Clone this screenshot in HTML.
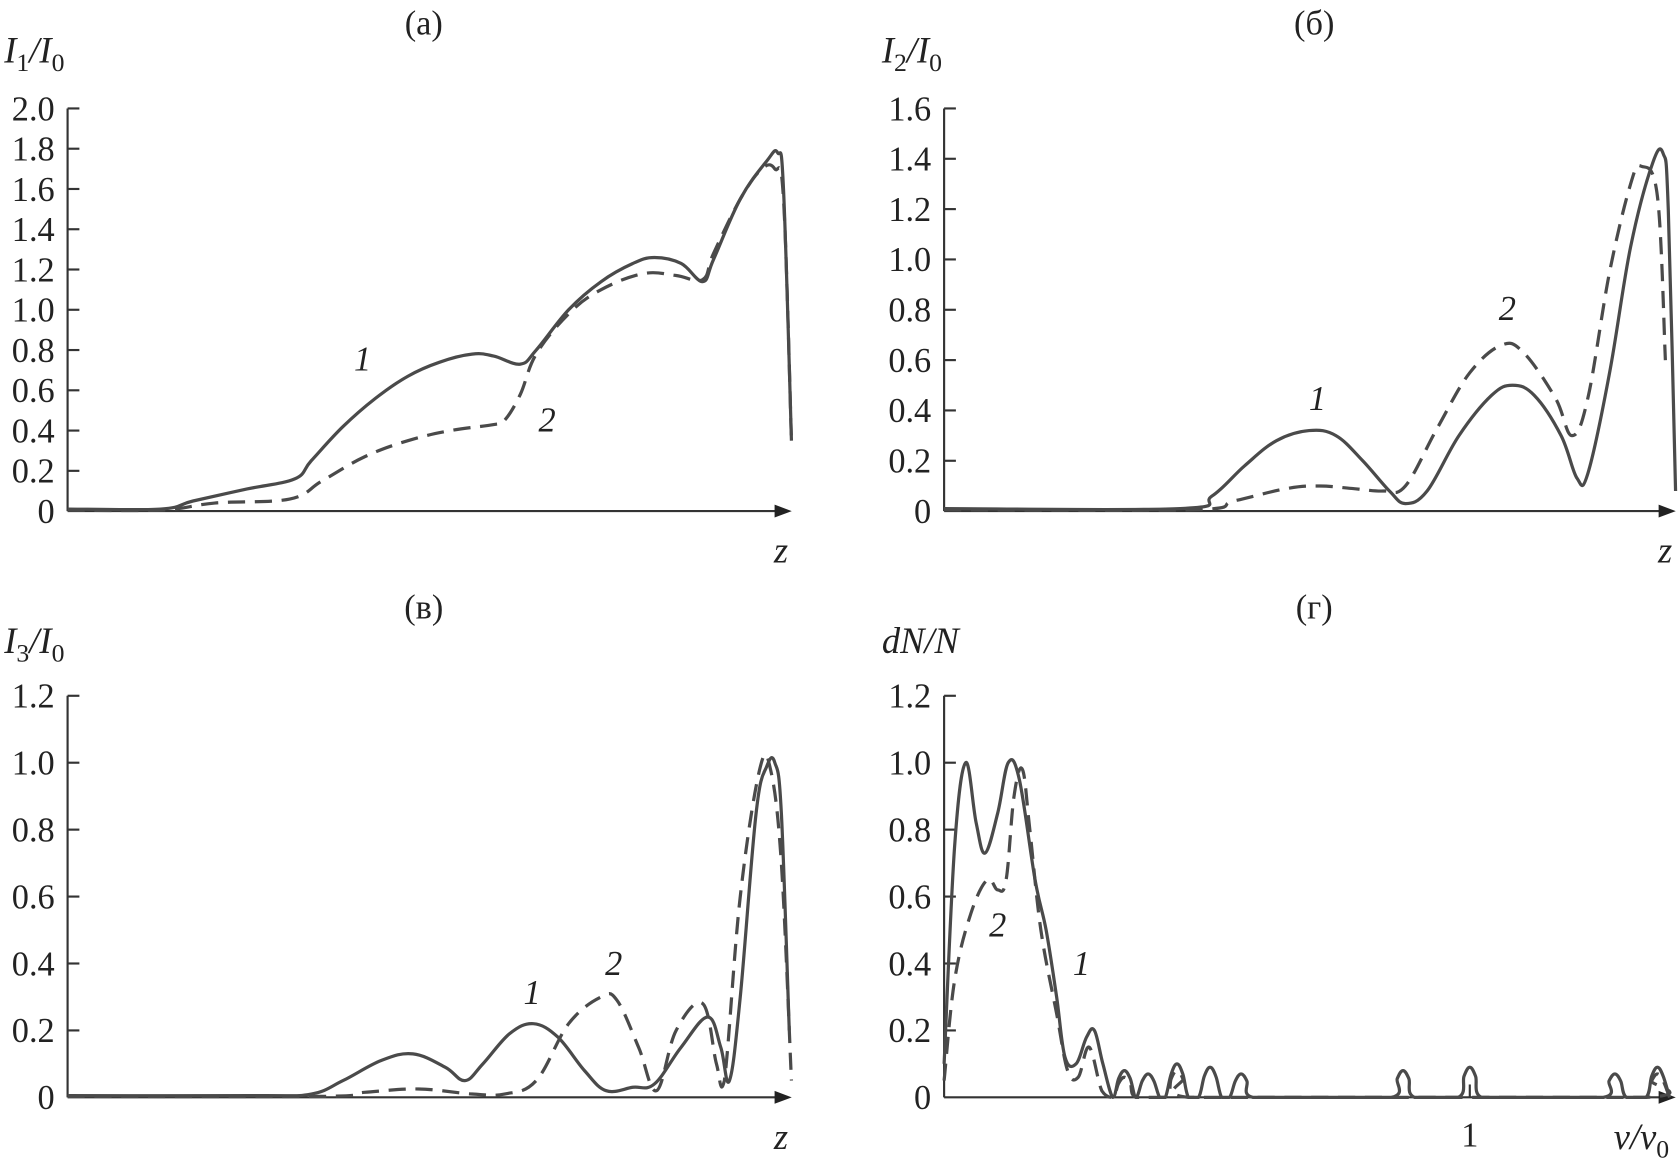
<!DOCTYPE html>
<html><head><meta charset="utf-8"><style>
html,body{margin:0;padding:0;background:#fff;}
svg{display:block;}
text{font-family:"Liberation Serif",serif;fill:#222;}
</style></head><body>
<svg id="chart" width="1679" height="1165" viewBox="0 0 1565 1085" preserveAspectRatio="none" xmlns="http://www.w3.org/2000/svg"></svg>
<script>
// Panel a (z in 0..10)
const aZ1=[0,1.29,1.74,2.49,3.15,3.38,3.82,4.27,4.72,5.16,5.61,5.91,6.28,6.50,6.95,7.40,7.84,8.14,8.51,8.81,8.96,9.33,9.70,9.85,9.93,10.04];
const aV1=[0.01,0.01,0.05,0.11,0.16,0.25,0.42,0.56,0.67,0.74,0.78,0.77,0.73,0.80,1.0,1.14,1.23,1.26,1.23,1.14,1.25,1.55,1.74,1.78,1.6,0.35];
const aZ2=[0,1.29,2.04,3.08,3.53,4.12,4.72,5.31,5.91,6.06,6.28,6.50,6.95,7.40,7.99,8.44,8.81,8.96,9.33,9.63,9.81,9.93,10.04];
const aV2=[0.005,0.005,0.04,0.06,0.15,0.27,0.35,0.40,0.43,0.45,0.58,0.78,0.98,1.10,1.18,1.17,1.15,1.28,1.55,1.70,1.70,1.55,0.35];
// Panel b
const bZ1=[0,3.26,3.70,4.15,4.59,5.04,5.41,5.78,6.15,6.37,6.67,7.11,7.56,7.85,8.15,8.52,8.74,8.89,9.19,9.48,9.78,9.93,10.0,10.1];
const bV1=[0.01,0.01,0.06,0.18,0.28,0.32,0.30,0.20,0.08,0.03,0.08,0.30,0.46,0.50,0.46,0.30,0.13,0.15,0.55,1.05,1.38,1.42,1.2,0.08];
const bZ2=[0,3.41,4.0,4.74,5.19,5.63,6.07,6.37,6.81,7.26,7.70,8.0,8.44,8.67,8.89,9.19,9.48,9.63,9.85,9.96];
const bV2=[0.005,0.005,0.04,0.09,0.10,0.09,0.08,0.10,0.33,0.55,0.66,0.63,0.45,0.30,0.45,0.95,1.30,1.37,1.25,0.6];
// Panel c
const cZ1=[0,2.63,3.38,3.82,4.35,4.79,5.24,5.51,5.76,6.13,6.46,6.80,7.17,7.47,7.84,8.14,8.51,8.88,9.06,9.18,9.33,9.55,9.70,9.81,9.90,10.01];
const cV1=[0.005,0.005,0.01,0.05,0.11,0.13,0.09,0.05,0.10,0.19,0.22,0.18,0.08,0.02,0.03,0.04,0.15,0.24,0.15,0.05,0.30,0.85,0.99,1.0,0.85,0.2];
const cZ2=[0,3.53,4.12,4.87,5.61,6.06,6.50,6.95,7.40,7.62,7.92,8.17,8.44,8.81,9.0,9.11,9.33,9.60,9.75,9.90,10.04];
const cV2=[0.003,0.003,0.015,0.025,0.01,0.01,0.05,0.22,0.30,0.29,0.15,0.02,0.20,0.28,0.10,0.05,0.60,0.98,0.98,0.70,0.05];
// Panel d (v/v0)
const dX1=[0,0.02,0.041,0.061,0.078,0.102,0.122,0.143,0.173,0.194,0.214,0.230,0.251,0.271,0.286,0.302,0.321,0.332,0.343,0.354,0.365,0.377,0.388,0.399,0.410,0.421,0.432,0.443,0.454,0.465,0.484,0.495,0.506,0.517,0.528,0.543,0.554,0.565,0.576,0.587,0.7,0.851,0.862,0.873,0.884,0.895,0.978,0.989,1.0,1.011,1.022,1.1,1.254,1.265,1.276,1.287,1.298,1.335,1.346,1.357,1.368,1.38];
const dV1=[0.1,0.75,1.0,0.82,0.73,0.85,1.0,0.95,0.65,0.5,0.3,0.12,0.10,0.18,0.2,0.1,0,0.056,0.08,0.056,0,0.049,0.07,0.049,0,0,0.07,0.10,0.07,0,0,0.063,0.09,0.063,0,0,0.049,0.07,0.049,0,0,0,0.056,0.08,0.056,0,0,0.063,0.09,0.063,0,0,0,0.049,0.07,0.049,0,0,0.063,0.09,0.063,0];
const dX2=[0,0.02,0.051,0.082,0.102,0.118,0.133,0.149,0.163,0.184,0.214,0.235,0.255,0.276,0.300,0.321,0.332,0.343,0.354,0.365,0.421,0.432,0.443,0.454,0.465,0.8,1.335,1.346,1.357,1.368,1.38];
const dV2=[0.05,0.35,0.55,0.65,0.62,0.65,0.9,0.98,0.80,0.50,0.25,0.08,0.06,0.15,0.02,0,0.042,0.06,0.042,0,0,0.056,0.08,0.056,0,0,0,0.049,0.07,0.049,0];
const ticksA=["0","0.2","0.4","0.6","0.8","1.0","1.2","1.4","1.6","1.8","2.0"];
const ticksB=["0","0.2","0.4","0.6","0.8","1.0","1.2","1.4","1.6"];
const ticksC=["0","0.2","0.4","0.6","0.8","1.0","1.2"];

const svg=document.getElementById('chart');
const NS="http://www.w3.org/2000/svg";
function mk(tag,attrs,parent){const e=document.createElementNS(NS,tag);for(const k in attrs)e.setAttribute(k,attrs[k]);(parent||svg).appendChild(e);return e;}
function txt(x,y,s,size,anchor,style,parent){const t=mk('text',{x:x,y:y,'font-size':size,'text-anchor':anchor||'start'},parent);if(style)t.setAttribute('font-style',style);t.innerHTML=s;return t;}
function smooth(pts,yb){const cl=v=>Math.min(v,yb);let d='M'+pts[0][0].toFixed(1)+','+pts[0][1].toFixed(1);for(let i=0;i<pts.length-1;i++){const p0=pts[Math.max(0,i-1)],p1=pts[i],p2=pts[i+1],p3=pts[Math.min(pts.length-1,i+2)];const t=0.18;const c1=[p1[0]+(p2[0]-p0[0])*t,cl(p1[1]+(p2[1]-p0[1])*t)];const c2=[p2[0]-(p3[0]-p1[0])*t,cl(p2[1]-(p3[1]-p1[1])*t)];d+=' C'+c1[0].toFixed(1)+','+c1[1].toFixed(1)+' '+c2[0].toFixed(1)+','+c2[1].toFixed(1)+' '+p2[0].toFixed(1)+','+p2[1].toFixed(1);}return d;}

function panel(cfg){
  const g=mk('g',{});
  
  
  const ys=v=>cfg.y0-(v/cfg.ymax)*(cfg.y0-cfg.ytop);
  const xs=z=>cfg.x0+(z-cfg.dmin)/(cfg.dmax-cfg.dmin)*(cfg.x1-cfg.x0);
  const ya=mk('line',{x1:cfg.x0,y1:cfg.y0,x2:cfg.x0,y2:cfg.ytop,stroke:'#333','stroke-width':2},g);
  
  
  const xa=mk('line',{x1:cfg.x0,y1:cfg.y0,x2:cfg.xend-8,y2:cfg.y0,stroke:'#333','stroke-width':2},g);
  
  
  const ar=mk('path',{d:`M${cfg.xend},${cfg.y0} l-16,-6 l0,12 z`,fill:'#222'},g);
  
  
  const step=cfg.ymax/(cfg.ticks.length-1);
  cfg.ticks.forEach((lab,i)=>{const y=ys(i*step);
    if(i>0){const tk=mk('line',{x1:cfg.x0,y1:y,x2:cfg.x0+11,y2:y,stroke:'#333','stroke-width':2},g);
      
      }
    const t=txt(cfg.x0-12,y+11,lab,32,'end',null,g);
    
    });
  cfg.series.forEach((s,k)=>{const pts=s[0].map((z,i)=>[xs(z),ys(s[1][i])]);
    const p=mk('path',{d:smooth(pts,cfg.y0),fill:'none',stroke:'#4a4a4a','stroke-width':3,'stroke-linejoin':'round'},g);
    if(k===1)p.setAttribute('stroke-dasharray','16 9');
    
    });
  const tt=txt(cfg.titleX,34,cfg.title,32,'middle',null,g);tt.setAttribute('y',cfg.titleY);
  
  
  const yl=txt(cfg.ylX,cfg.ylY,cfg.ylabel,34,'start','italic',g);
  
  
  const xl=txt(cfg.xlX,cfg.y0+48,cfg.xlabel,34,'middle','italic',g);
  
  
  cfg.labels.forEach(l=>{const t=txt(l[0],l[1],l[2],32,'middle','italic',g);
    
    });
  return {g,xs,ys};
}
const sub0='<tspan font-size="24" dy="8" font-style="normal">0</tspan>';
function sub(n){return '<tspan font-size="24" dy="8" font-style="normal">'+n+'</tspan><tspan dy="-8">/I</tspan>'+sub0;}
panel({name:'panel-a',x0:63,x1:735,xend:738,y0:476,ytop:101,ymax:2.0,dmin:0,dmax:10,ticks:ticksA,series:[[aZ1,aV1],[aZ2,aV2]],title:'(а)',titleX:395,titleY:32,ylabel:'I'+sub(1),ylX:4,ylY:58,xlabel:'z',xlX:728,labels:[[338,345,'1'],[510,402,'2']]});
panel({name:'panel-b',x0:880,x1:1555,xend:1562,y0:476,ytop:101,ymax:1.6,dmin:0,dmax:10,ticks:ticksB,series:[[bZ1,bV1],[bZ2,bV2]],title:'(б)',titleX:1225,titleY:32,ylabel:'I'+sub(2),ylX:822,ylY:58,xlabel:'z',xlX:1552,labels:[[1228,382,'1'],[1405,298,'2']]});
panel({name:'panel-c',x0:63,x1:735,xend:738,y0:1022,ytop:648,ymax:1.2,dmin:0,dmax:10,ticks:ticksC,series:[[cZ1,cV1],[cZ2,cV2]],title:'(в)',titleX:395,titleY:576,ylabel:'I'+sub(3),ylX:4,ylY:608,xlabel:'z',xlX:728,labels:[[496,935,'1'],[572,908,'2']]});
const pd=panel({name:'panel-d',x0:880,x1:1370,xend:1562,y0:1022,ytop:648,ymax:1.2,dmin:0,dmax:1,ticks:ticksC,series:[[dX1,dV1],[dX2,dV2]],title:'(г)',titleX:1225,titleY:576,ylabel:'dN/N',ylX:822,ylY:608,xlabel:'v/v'+'<tspan font-size="24" dy="8" font-style="normal">0</tspan>',xlX:1530,labels:[[1008,908,'1'],[930,872,'2']]});
const t1=mk('line',{x1:1370,y1:1022,x2:1370,y2:1010,stroke:'#333','stroke-width':2},pd.g);


const t1l=txt(1370,1068,'1',32,'middle',null,pd.g);


</script>
</body></html>
